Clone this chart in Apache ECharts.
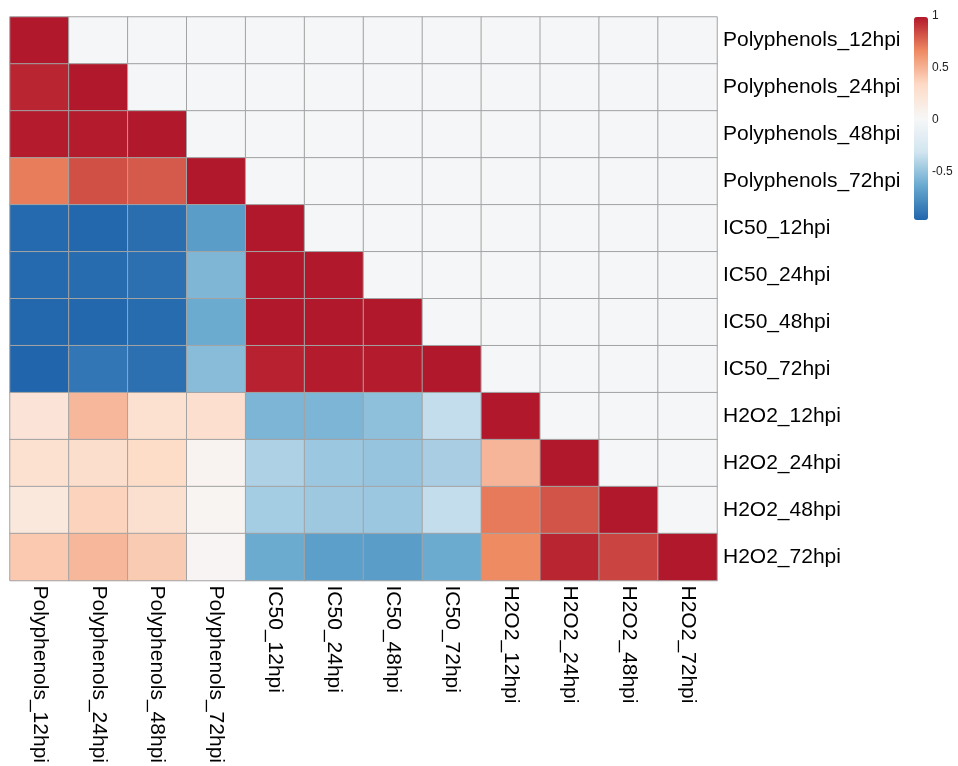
<!DOCTYPE html>
<html>
<head>
<meta charset="utf-8">
<script src="https://cdn.jsdelivr.net/npm/echarts@6/dist/echarts.min.js"></script>
<style>
html,body{margin:0;padding:0;background:#fff;}
#chart{width:958px;height:766px;}
</style>
</head>
<body>
<div id="chart"></div>
<script>
// Variables (same order for rows and columns)
var labels = [
  'Polyphenols_12hpi','Polyphenols_24hpi','Polyphenols_48hpi','Polyphenols_72hpi',
  'IC50_12hpi','IC50_24hpi','IC50_48hpi','IC50_72hpi',
  'H2O2_12hpi','H2O2_24hpi','H2O2_48hpi','H2O2_72hpi'
];
// Lower triangle of the correlation matrix (row i has i+1 values); upper triangle shown as 0
var lowerRows = [
  [1],
  [0.96, 1],
  [0.99, 0.99, 1],
  [0.71, 0.84, 0.81, 1],
  [-0.94, -0.95, -0.92, -0.69, 1],
  [-0.94, -0.93, -0.91, -0.56, 1, 1],
  [-0.95, -0.95, -0.93, -0.62, 1, 1, 1],
  [-0.96, -0.88, -0.91, -0.53, 0.97, 0.99, 0.99, 1],
  [0.24, 0.49, 0.28, 0.30, -0.57, -0.57, -0.51, -0.35, 1],
  [0.28, 0.31, 0.34, 0.065, -0.415, -0.47, -0.487, -0.43, 0.50, 1],
  [0.20, 0.375, 0.29, 0.06, -0.445, -0.465, -0.47, -0.35, 0.72, 0.83, 1],
  [0.42, 0.49, 0.41, 0.05, -0.62, -0.684, -0.69, -0.62, 0.67, 0.96, 0.87, 1]
];
var scaleMin = -0.96, scaleMax = 1;
var palette = ['#2166AC','#67A9CF','#D1E5F0','#F7F7F7','#FDDBC7','#EF8A62','#B2182B'];
var legendTicks = [1, 0.5, 0, -0.5];

var cells = [];
for (var r = 0; r < labels.length; r++) {
  for (var c = 0; c < labels.length; c++) {
    var v = c <= r ? lowerRows[r][c] : 0;
    cells.push([c, r, v]);
  }
}

var font = '"Liberation Sans", Arial, Helvetica, sans-serif';
var legTop = 17, legH = 203, legLeft = 914, legW = 14;
var graphics = legendTicks.map(function (t) {
  return {
    type: 'text',
    left: legLeft + legW + 4,
    top: legTop + (scaleMax - t) / (scaleMax - scaleMin) * legH - 7,
    style: { text: String(t), font: '12px ' + font, fill: '#222' }
  };
});

var chart = echarts.init(document.getElementById('chart'));
chart.setOption({
  backgroundColor: '#fff',
  animation: false,
  grid: { left: 10, top: 17, width: 707, height: 569, containLabel: false },
  xAxis: {
    type: 'category', data: labels, position: 'bottom',
    axisLine: { show: false }, axisTick: { show: false }, splitLine: { show: false },
    axisLabel: { rotate: -90, margin: 5, fontSize: 21, color: '#000', fontFamily: font, interval: 0 }
  },
  yAxis: {
    type: 'category', data: labels, position: 'right', inverse: true,
    axisLine: { show: false }, axisTick: { show: false }, splitLine: { show: false },
    axisLabel: { margin: 6, fontSize: 21, color: '#000', fontFamily: font, interval: 0 }
  },
  visualMap: {
    type: 'continuous', min: scaleMin, max: scaleMax, calculable: false,
    orient: 'vertical', left: legLeft, top: legTop, itemWidth: legW, itemHeight: legH,
    padding: 0, text: null, showLabel: false, realtime: false,
    inRange: { color: palette }
  },
  graphic: graphics,
  series: [{
    type: 'heatmap', data: cells,
    itemStyle: { borderColor: '#a3a3a3', borderWidth: 1 },
    emphasis: { disabled: true }
  }]
});
</script>
</body>
</html>
